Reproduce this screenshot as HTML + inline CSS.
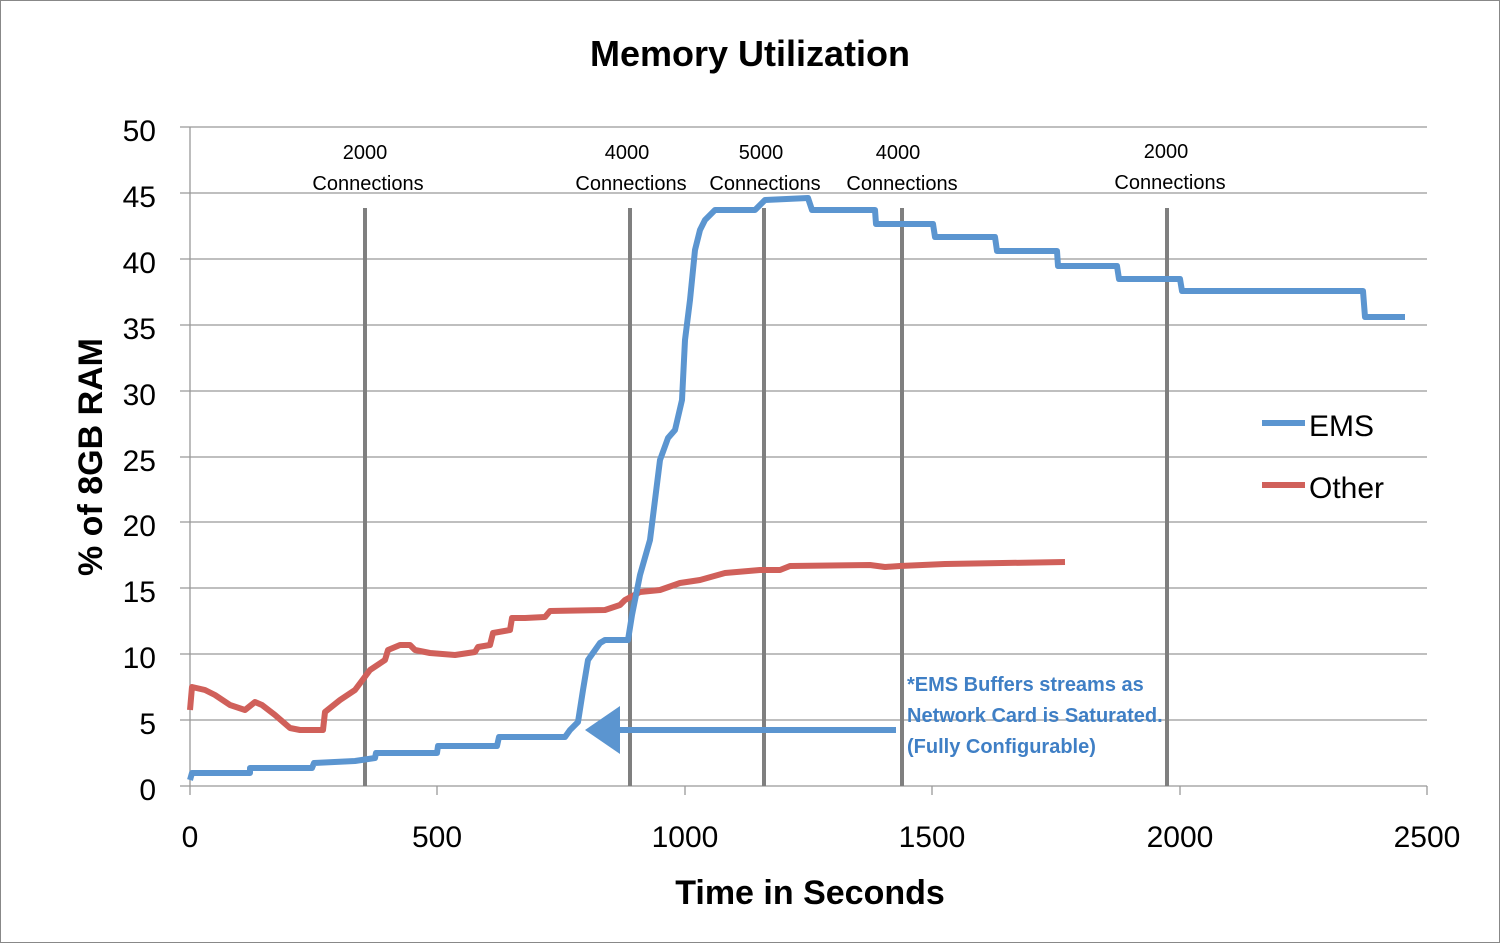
<!DOCTYPE html>
<html><head><meta charset="utf-8"><style>
body{margin:0;background:#fff}
svg{display:block;font-family:"Liberation Sans",sans-serif}
</style></head><body>
<svg width="1500" height="943" viewBox="0 0 1500 943">
<rect x="0.5" y="0.5" width="1499" height="942" fill="#fff" stroke="#888"/>
<text x="750" y="66" text-anchor="middle" font-size="36" font-weight="bold">Memory Utilization</text>
<g stroke="#999" stroke-width="1.3">
<line x1="180" y1="127" x2="1427" y2="127"/><line x1="180" y1="193" x2="1427" y2="193"/>
<line x1="180" y1="259" x2="1427" y2="259"/><line x1="180" y1="325" x2="1427" y2="325"/>
<line x1="180" y1="391" x2="1427" y2="391"/><line x1="180" y1="457" x2="1427" y2="457"/>
<line x1="180" y1="522" x2="1427" y2="522"/><line x1="180" y1="588" x2="1427" y2="588"/>
<line x1="180" y1="654" x2="1427" y2="654"/><line x1="180" y1="720" x2="1427" y2="720"/>
<line x1="190" y1="127" x2="190" y2="795"/><line x1="180" y1="786" x2="1427" y2="786"/>
<line x1="437" y1="786" x2="437" y2="795"/><line x1="685" y1="786" x2="685" y2="795"/>
<line x1="932" y1="786" x2="932" y2="795"/><line x1="1180" y1="786" x2="1180" y2="795"/>
<line x1="1427" y1="786" x2="1427" y2="795"/>
</g>
<g font-size="30" text-anchor="end">
<text x="156" y="141">50</text><text x="156" y="207">45</text><text x="156" y="273">40</text>
<text x="156" y="339">35</text><text x="156" y="405">30</text><text x="156" y="471">25</text>
<text x="156" y="536">20</text><text x="156" y="602">15</text><text x="156" y="668">10</text>
<text x="156" y="734">5</text><text x="156" y="800">0</text>
</g>
<g font-size="30" text-anchor="middle">
<text x="190" y="847">0</text><text x="437" y="847">500</text><text x="685" y="847">1000</text>
<text x="932" y="847">1500</text><text x="1180" y="847">2000</text><text x="1427" y="847">2500</text>
</g>
<text x="810" y="904" text-anchor="middle" font-size="34" font-weight="bold">Time in Seconds</text>
<text transform="translate(102,457) rotate(-90)" text-anchor="middle" font-size="34" font-weight="bold">% of 8GB RAM</text>
<g stroke="#7f7f7f" stroke-width="4">
<line x1="365" y1="208" x2="365" y2="786"/><line x1="630" y1="208" x2="630" y2="786"/>
<line x1="764" y1="208" x2="764" y2="786"/><line x1="902" y1="208" x2="902" y2="786"/>
<line x1="1167" y1="208" x2="1167" y2="786"/>
</g>
<g font-size="20" text-anchor="middle">
<text x="365" y="159">2000</text><text x="368" y="190">Connections</text>
<text x="627" y="159">4000</text><text x="631" y="190">Connections</text>
<text x="761" y="159">5000</text><text x="765" y="190">Connections</text>
<text x="898" y="159">4000</text><text x="902" y="190">Connections</text>
<text x="1166" y="158">2000</text><text x="1170" y="189">Connections</text>
</g>
<polyline fill="none" stroke="#d0605a" stroke-width="6" stroke-linejoin="round" points="190,710 192,687 205,690 215,695 230,705 245,710 255,702 262,705 275,715 290,728 300,730 323,730 325,712 340,700 355,690 370,670 385,660 388,650 400,645 410,645 415,650 430,653 455,655 475,652 478,647 490,645 493,633 510,630 512,618 525,618 545,617 550,611 605,610 620,605 625,600 640,592 660,590 680,583 700,580 725,573 760,570 780,570 790,566 870,565 885,567 900,566 945,564 1065,562"/>
<polyline fill="none" stroke="#5b95d0" stroke-width="6" stroke-linejoin="round" points="190,780 192,773 250,773 250,768 312,768 314,763 355,761 375,758 376,753 437,753 438,746 497,746 499,737 565,737 570,730 578,722 583,690 588,660 600,643 605,640 628,640 632,615 640,575 650,540 655,500 660,460 668,438 675,430 682,400 685,340 690,300 695,250 700,230 705,220 715,210 755,210 765,200 808,198 812,210 875,210 876,224 933,224 935,237 995,237 997,251 1057,251 1058,266 1117,266 1119,279 1180,279 1182,291 1363,291 1365,317 1405,317"/>
<line x1="1262" y1="423" x2="1305" y2="423" stroke="#5b95d0" stroke-width="6"/>
<text x="1309" y="436" font-size="30">EMS</text>
<line x1="1262" y1="485" x2="1305" y2="485" stroke="#d0605a" stroke-width="6"/>
<text x="1309" y="498" font-size="30">Other</text>
<line x1="618" y1="730" x2="896" y2="730" stroke="#5b95d0" stroke-width="6"/>
<polygon points="585,730 620,706 620,754" fill="#5b95d0"/>
<g font-size="20" font-weight="bold" fill="#3f7fc5">
<text x="907" y="691">*EMS Buffers streams as</text>
<text x="907" y="722">Network Card is Saturated.</text>
<text x="907" y="753">(Fully Configurable)</text>
</g>
</svg>
</body></html>
